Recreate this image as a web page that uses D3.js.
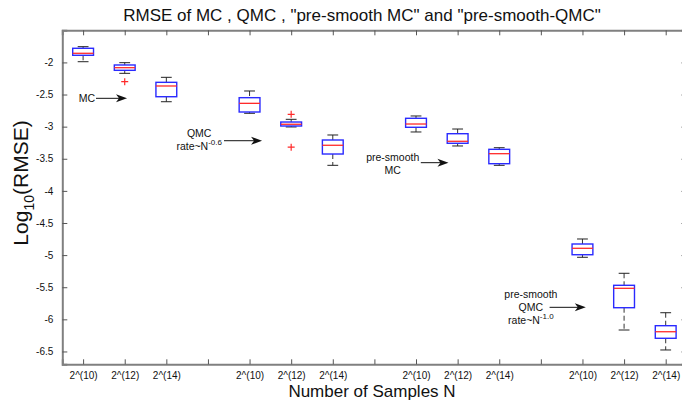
<!DOCTYPE html>
<html>
<head>
<meta charset="utf-8">
<script src="https://cdn.jsdelivr.net/npm/d3@7"></script>
<style>
  html, body { margin: 0; padding: 0; background: #fff; }
  svg { display: block; }
  text { font-family: "Liberation Sans", Arial, Helvetica, sans-serif; fill: #111; }
</style>
</head>
<body>
<svg id="chart" width="682" height="400"></svg>
<script>
// Box positions along the x axis (groups of three, one empty slot between groups)
const positions = [1, 2, 3, 5, 6, 7, 9, 10, 11, 13, 14, 15];
const sampleLabels = ["2^(10)", "2^(12)", "2^(14)"];

// Five-number summaries of log10(RMSE) for each box
const whiskerHigh = [-1.755, -2.004, -2.232, -2.445, -2.886, -3.130, -2.834, -3.037, -3.328, -4.749, -5.283, -5.897];
const q3          = [-1.780, -2.040, -2.310, -2.549, -2.928, -3.208, -2.870, -3.110, -3.353, -4.827, -5.470, -6.099];
const medians     = [-1.858, -2.082, -2.367, -2.637, -2.963, -3.290, -2.959, -3.228, -3.421, -4.894, -5.517, -6.193];
const q1          = [-1.889, -2.123, -2.534, -2.772, -2.990, -3.426, -3.010, -3.259, -3.577, -4.994, -5.819, -6.295];
const whiskerLow  = [-1.989, -2.170, -2.612, -2.792, -3.005, -3.602, -3.083, -3.301, -3.602, -5.034, -6.166, -6.477];

// Outlying runs: [box index, value]
const outliers = [[1, -2.300], [4, -2.808], [4, -3.320]];

// Y tick values
const yTicks = [-2, -2.5, -3, -3.5, -4, -4.5, -5, -5.5, -6, -6.5];

const svg = d3.select("#chart");
const plot = { left: 62.3, right: 686.5, top: 30.3, bottom: 364.3 };

const x = d3.scaleLinear().domain([0.5, 15.5]).range([plot.left, plot.right]);
const y = d3.scaleLinear().domain([-1.5, -6.7]).range([plot.top, plot.bottom]);

const boxW = 0.5, capW = 0.26;
const axisColor = "#808080";

// Title
svg.append("text")
  .attr("x", 362).attr("y", 21)
  .attr("text-anchor", "middle")
  .style("font-size", "17px")
  .text('RMSE of MC , QMC , "pre-smooth MC" and "pre-smooth-QMC"');

// Axis label text
svg.append("text")
  .attr("x", 372).attr("y", 397)
  .attr("text-anchor", "middle")
  .style("font-size", "17px")
  .text("Number of Samples N");

const yl = svg.append("text")
  .attr("transform", "translate(28,183) rotate(-90)")
  .attr("text-anchor", "middle")
  .style("font-size", "21px");
yl.append("tspan").text("Log");
yl.append("tspan").attr("dy", 6).style("font-size", "14px").text("10");
yl.append("tspan").attr("dy", -6).text("(RMSE)");

// Bottom axis: ticks at every slot, labels only on box slots
const allSlots = d3.range(1, 16);
const labelFor = p => {
  const i = positions.indexOf(p);
  return i < 0 ? "" : sampleLabels[i % 3];
};
const xAxisBottom = d3.axisBottom(x).tickValues(allSlots).tickSize(-5).tickPadding(8).tickFormat(labelFor);
const gxb = svg.append("g").attr("transform", `translate(0,${plot.bottom})`).call(xAxisBottom);
const xAxisTop = d3.axisTop(x).tickValues(allSlots).tickSize(-5).tickFormat("");
const gxt = svg.append("g").attr("transform", `translate(0,${plot.top})`).call(xAxisTop);

const yAxisLeft = d3.axisLeft(y).tickValues(yTicks).tickSize(-5).tickPadding(9).tickFormat(d => String(d));
const gyl = svg.append("g").attr("transform", `translate(${plot.left},0)`).call(yAxisLeft);
const yAxisRight = d3.axisRight(y).tickValues(yTicks).tickSize(-5).tickFormat("");
const gyr = svg.append("g").attr("transform", `translate(${plot.right},0)`).call(yAxisRight);

[gxb, gxt, gyl, gyr].forEach(g => {
  g.select(".domain").attr("stroke", axisColor).attr("stroke-width", 2);
  g.selectAll(".tick line").attr("stroke", "#555").attr("stroke-width", 1);
  g.selectAll(".tick text").style("font-size", "10px").attr("fill", "#111")
    .style("font-family", '"Liberation Sans", Arial, sans-serif');
});

// Boxes
const boxes = svg.append("g");
positions.forEach((p, i) => {
  const g = boxes.append("g");
  // whiskers (dashed)
  g.append("line")
    .attr("x1", x(p)).attr("x2", x(p))
    .attr("y1", y(whiskerHigh[i])).attr("y2", y(q3[i]))
    .attr("stroke", "#333").attr("stroke-width", 1).attr("stroke-dasharray", "5,3");
  g.append("line")
    .attr("x1", x(p)).attr("x2", x(p))
    .attr("y1", y(q1[i])).attr("y2", y(whiskerLow[i]))
    .attr("stroke", "#333").attr("stroke-width", 1).attr("stroke-dasharray", "5,3");
  // caps
  [whiskerHigh[i], whiskerLow[i]].forEach(v => {
    g.append("line")
      .attr("x1", x(p - capW / 2)).attr("x2", x(p + capW / 2))
      .attr("y1", y(v)).attr("y2", y(v))
      .attr("stroke", "#222").attr("stroke-width", 1);
  });
  // box
  g.append("rect")
    .attr("x", x(p - boxW / 2)).attr("width", x(p + boxW / 2) - x(p - boxW / 2))
    .attr("y", y(q3[i])).attr("height", y(q1[i]) - y(q3[i]))
    .attr("fill", "none").attr("stroke", "#2a2aff").attr("stroke-width", 1.4);
  // median
  g.append("line")
    .attr("x1", x(p - boxW / 2)).attr("x2", x(p + boxW / 2))
    .attr("y1", y(medians[i])).attr("y2", y(medians[i]))
    .attr("stroke", "#ff2a2a").attr("stroke-width", 1.3);
});

// Outliers as red plus signs
outliers.forEach(([i, v]) => {
  const cx = x(positions[i]), cy = y(v), s = 3.5;
  svg.append("path")
    .attr("d", `M${cx - s},${cy}H${cx + s}M${cx},${cy - s}V${cy + s}`)
    .attr("stroke", "#ff2a2a").attr("stroke-width", 1.2).attr("fill", "none");
});

// Annotations (data coordinates)
const notes = [
  { lines: [["MC"]], cx: 1.094, cy: -2.559, arrow: [1.31, 2.055, -2.559] },
  { lines: [["QMC"], ["rate~N", "-0.6"]], cx: 3.79, cy: -3.104, arrow: [4.386, 5.30, -3.219] },
  { lines: [["pre-smooth"], ["MC"]], cx: 8.44, cy: -3.468, arrow: [9.115, 9.78, -3.561] },
  { lines: [["pre-smooth"], ["QMC"], ["rate~N", "-1.0"]], cx: 11.76, cy: -5.606, arrow: [12.21, 13.08, -5.813] }
];
const lineStep = 13;

notes.forEach(n => {
  n.lines.forEach((ln, k) => {
    const t = svg.append("text")
      .attr("x", x(n.cx)).attr("y", y(n.cy) + 4 + k * lineStep)
      .attr("text-anchor", "middle")
      .style("font-size", "10.5px");
    t.append("tspan").text(ln[0]);
    if (ln[1]) t.append("tspan").attr("dy", -5).style("font-size", "8px").text(ln[1]);
  });
  const [ax1, ax2, ay] = n.arrow;
  const X1 = x(ax1), X2 = x(ax2), Y = y(ay);
  svg.append("line")
    .attr("x1", X1).attr("x2", X2 - 6).attr("y1", Y).attr("y2", Y)
    .attr("stroke", "#111").attr("stroke-width", 1);
  svg.append("path")
    .attr("d", `M${X2},${Y}L${X2 - 11},${Y - 4}L${X2 - 8},${Y}L${X2 - 11},${Y + 4}Z`)
    .attr("fill", "#111");
});
</script>
</body>
</html>
